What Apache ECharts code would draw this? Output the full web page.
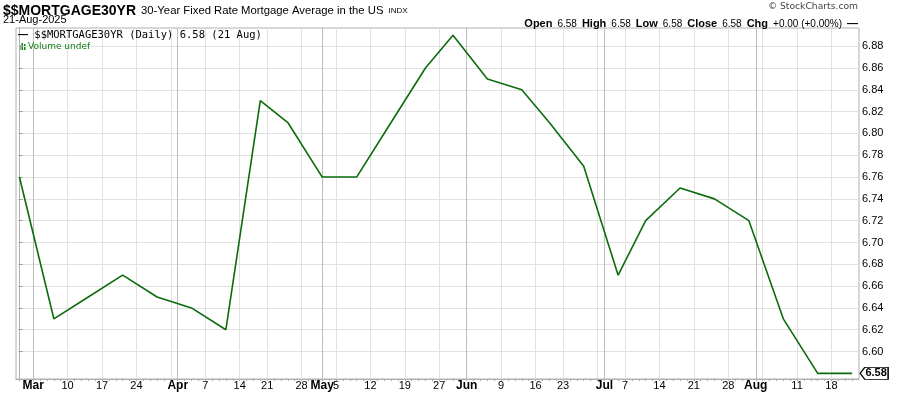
<!DOCTYPE html>
<html><head><meta charset="utf-8">
<script src="https://cdn.jsdelivr.net/npm/echarts@6/dist/echarts.min.js"></script>
<style>html,body{margin:0;padding:0;background:#fff}#c{width:900px;height:396px}</style>
</head><body><div id="c"></div>
<script>
// ---- data ----
const symbol = '$$MORTGAGE30YR';
const longName = '30-Year Fixed Rate Mortgage Average in the US';
const obsDates = ['2025-02-27','2025-03-06','2025-03-13','2025-03-20','2025-03-27','2025-04-03','2025-04-10','2025-04-17','2025-04-24','2025-05-01','2025-05-08','2025-05-15','2025-05-22','2025-05-29','2025-06-05','2025-06-12','2025-06-18','2025-06-26','2025-07-03','2025-07-10','2025-07-17','2025-07-24','2025-07-31','2025-08-07','2025-08-14','2025-08-21'];
const obsValues = [6.76,6.63,6.65,6.67,6.65,6.64,6.62,6.83,6.81,6.76,6.76,6.81,6.86,6.89,6.85,6.84,6.81,6.77,6.67,6.72,6.75,6.74,6.72,6.63,6.58,6.58];
const holidays = ['2025-04-18','2025-05-26','2025-06-19','2025-07-04'];
const axisStart = '2025-02-27', axisEnd = '2025-08-21';
const monthTickDates = ['2025-03-03','2025-04-01','2025-05-01','2025-06-02','2025-07-01','2025-08-01'];
const monthTickLabels = ['Mar','Apr','May','Jun','Jul','Aug'];
const weekTickDates = ['2025-03-10','2025-03-17','2025-03-24','2025-04-07','2025-04-14','2025-04-21','2025-04-28','2025-05-05','2025-05-12','2025-05-19','2025-05-27','2025-06-09','2025-06-16','2025-06-23','2025-07-07','2025-07-14','2025-07-21','2025-07-28','2025-08-11','2025-08-18'];
const weekTickLabels = ['10','17','24','7','14','21','28','5','12','19','27','9','16','23','7','14','21','28','11','18'];
const unlabeledWeekDates = ['2025-03-31','2025-06-30','2025-08-04'];
const yTicks = [6.60,6.62,6.64,6.66,6.68,6.70,6.72,6.74,6.76,6.78,6.80,6.82,6.84,6.86,6.88];
const headerDate = '21-Aug-2025';
const legendDate = '21 Aug';

// ---- trading-day index ----
const tradingDays = [];
for (let d = new Date(axisStart + 'T00:00:00Z'); d <= new Date(axisEnd + 'T00:00:00Z'); d.setUTCDate(d.getUTCDate() + 1)) {
  const wd = d.getUTCDay(), s = d.toISOString().slice(0, 10);
  if (wd !== 0 && wd !== 6 && !holidays.includes(s)) tradingDays.push(s);
}
const idx = s => tradingDays.indexOf(s);
const points = obsDates.map((d, i) => [idx(d), obsValues[i]]);
const labelMap = {};
monthTickDates.forEach((d, i) => labelMap[idx(d)] = '{m|' + monthTickLabels[i] + '}');
weekTickDates.forEach((d, i) => labelMap[idx(d)] = '{d|' + weekTickLabels[i] + '}');
const labelValues = Object.keys(labelMap).map(Number);
const last = obsValues[obsValues.length - 1], prev = obsValues[obsValues.length - 2];
const chg = last - prev;
const f2 = v => v.toFixed(2);
const sgn = v => (v >= 0 ? '+' : '') + v.toFixed(2);

const gridLines = []
  .concat(weekTickDates.concat(unlabeledWeekDates).map(d => ({xAxis: idx(d), lineStyle: {color: '#e1e1e1'}})))
  .concat(monthTickDates.map(d => ({xAxis: idx(d), lineStyle: {color: '#bdbdbd'}})));

const chart = echarts.init(document.getElementById('c'));
const AR = 'Liberation Sans, Arial, sans-serif';
const DV = 'DejaVu Sans, Verdana, sans-serif';
const MONO = 'DejaVu Sans Mono, monospace';
const N = 'normal';
chart.setOption({
  animation: false,
  backgroundColor: '#fff',
  grid: {left: 16, right: 41, top: 28, bottom: 17, show: true, borderColor: '#b0b0b0', borderWidth: 1, backgroundColor: '#fff'},
  title: [
    {left: 3, top: 2, padding: 0, text: '{a|' + symbol + '} {b|' + longName + '} {c|INDX}',
      textStyle: {fontWeight: N, rich: {
        a: {fontFamily: AR, fontSize: 14, fontWeight: 'bold', color: '#000'},
        b: {fontFamily: AR, fontSize: 11.3, fontWeight: N, color: '#000'},
        c: {fontFamily: AR, fontSize: 8, fontWeight: N, color: '#000'}}}},
    {left: 3, top: 14, padding: 0, text: headerDate, textStyle: {fontFamily: AR, fontSize: 11, fontWeight: N, color: '#000'}},
    {right: 42, top: 2, padding: 0, text: '\u00a9 StockCharts.com', textStyle: {fontFamily: DV, fontSize: 9.2, fontWeight: N, color: '#444'}},
    {right: 42, top: 15, padding: 0, text: '{b|Open} {v|' + f2(last) + '} {b|High} {v|' + f2(last) + '} {b|Low} {v|' + f2(last) + '} {b|Close} {v|' + f2(last) + '} {b|Chg} {v|' + sgn(chg) + ' (' + sgn(chg / prev * 100) + '%)} {b|\u2014}',
      textStyle: {fontWeight: N, rich: {
        b: {fontFamily: AR, fontSize: 11, fontWeight: 'bold', color: '#000'},
        v: {fontFamily: AR, fontSize: 10, fontWeight: N, color: '#000'}}}},
    {left: 18, top: 30, padding: 0, text: '{d|\u2014}{t| ' + symbol + ' (Daily) ' + f2(last) + ' (' + legendDate + ')}',
      textStyle: {fontWeight: N, rich: {
        d: {fontFamily: AR, fontSize: 10, fontWeight: 'bold', color: '#000'},
        t: {fontFamily: MONO, fontSize: 10.5, fontWeight: N, color: '#000'}}}},
    {left: 28, top: 42, padding: 0, text: 'Volume undef', textStyle: {fontFamily: DV, fontSize: 9, fontWeight: N, color: '#138013'}}
  ],
  graphic: [
    {type: 'rect', left: 19, top: 45, shape: {width: 1.5, height: 5}, style: {fill: '#138013'}},
    {type: 'rect', left: 21.5, top: 43, shape: {width: 1.5, height: 7}, style: {fill: '#138013'}},
    {type: 'rect', left: 24, top: 44, shape: {width: 1.5, height: 6}, style: {fill: '#138013'}}
  ],
  xAxis: {
    type: 'value', min: -0.5, max: 122,
    axisLine: {show: true, lineStyle: {color: '#b0b0b0'}},
    axisTick: {show: true, customValues: tradingDays.map((d, i) => i), length: 2, lineStyle: {color: '#aaa'}},
    splitLine: {show: false},
    axisLabel: {customValues: labelValues, margin: 1, formatter: v => labelMap[v] || '',
      rich: {m: {fontFamily: AR, fontSize: 12, fontWeight: 'bold', color: '#000'},
             d: {fontFamily: AR, fontSize: 11, fontWeight: N, color: '#000'}}}
  },
  yAxis: {
    type: 'value', position: 'right', min: 6.5748, max: 6.8967,
    axisLine: {show: true, lineStyle: {color: '#b0b0b0'}},
    axisTick: {show: true, customValues: yTicks, length: 3, lineStyle: {color: '#999'}},
    splitLine: {show: true, lineStyle: {color: '#e1e1e1'}},
    axisLabel: {customValues: yTicks, margin: 3, formatter: v => v.toFixed(2), fontFamily: AR, fontSize: 11, color: '#000'}
  },
  series: [
    {type: 'line', data: [], z: 1, silent: true,
      markLine: {silent: true, symbol: ['none', 'none'], label: {show: false}, animation: false,
        lineStyle: {type: 'solid', width: 1}, data: gridLines}},
    {type: 'line', name: symbol, data: points, z: 5, symbol: 'none', showSymbol: false,
      lineStyle: {color: '#0d6b0d', width: 1.6}, itemStyle: {color: '#0d6b0d'},
      markPoint: {silent: true, animation: false,
        symbol: 'path://M0,5 L5,0 L30,0 L30,10 L5,10 Z', symbolSize: [28, 12], symbolOffset: [22, 0],
        itemStyle: {color: '#fff', borderColor: '#000', borderWidth: 1},
        label: {show: true, formatter: p => f2(p.value), fontFamily: AR, fontSize: 11, fontWeight: 'bold', color: '#000', offset: [2, 0]},
        data: [{coord: points[points.length - 1], value: last}]}}
  ]
});
</script></body></html>
